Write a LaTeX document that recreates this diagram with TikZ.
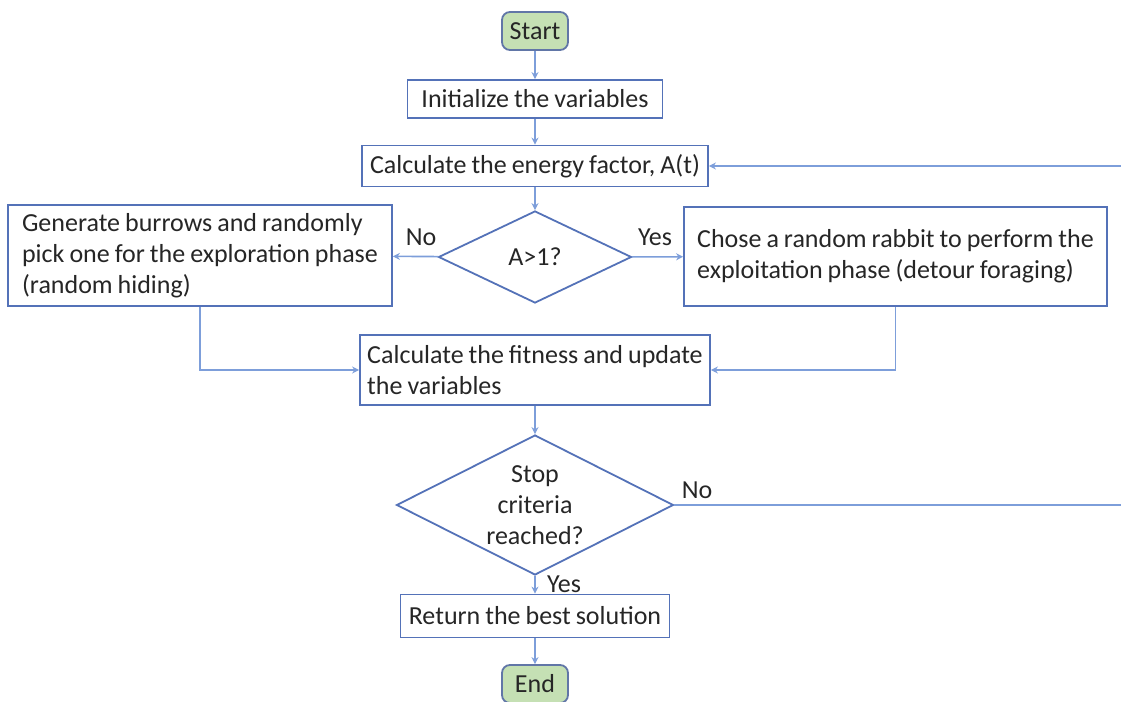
\documentclass[tikz,border=0pt]{standalone}
\usepackage{fontspec}
\setmainfont{Carlito}[WordSpace=0.85]
\usetikzlibrary{arrows.meta,shapes.geometric}

\definecolor{boxblue}{RGB}{84,114,184}
\definecolor{lineblue}{RGB}{125,158,218}
\definecolor{termgreen}{RGB}{197,224,180}

\begin{document}
\begin{tikzpicture}[
    font=\fontsize{13}{15.5}\selectfont,
    text=black!85,
    x=0.5pt, y=-0.5pt,
    box/.style={
        rectangle, draw=boxblue, line width=0.9pt, fill=white,
        align=center, inner sep=3pt
    },
    textbox/.style={
        box, align=left
    },
    terminal/.style={
        box, rounded corners=4pt, fill=termgreen, draw=boxblue!70!gray,
        minimum width=33pt, minimum height=19pt
    },
    decision/.style={
        diamond, aspect=2, draw=boxblue, line width=0.9pt, fill=white,
        align=center, inner sep=0pt
    },
    conn/.style={-{Stealth[length=3.5pt,width=3.5pt]}, draw=lineblue, line width=0.8pt},
]

    \useasboundingbox (0,0) rectangle (1121,702);

    % Column x-coordinates.
    \def\xMain{535}
    \def\xLeft{200}
    \def\xRight{895.5}

    % ---------- main column ----------
    \node[terminal] (start) at (\xMain, 31) {Start};
    \node[box, minimum width=127.5pt, minimum height=19pt] (init) at (\xMain, 99) {Initialize the variables};
    \node[box, minimum width=173pt, minimum height=20.5pt] (energy) at (\xMain, 166) {Calculate the energy factor, A(t)};
    \node[decision, minimum width=96.5pt, minimum height=46pt] (check) at (\xMain, 257) {A>1?};

    % ---------- branches ----------
    \node[textbox, minimum width=192pt, minimum height=50.5pt] (explore) at (\xLeft, 255.5)
        {Generate burrows and randomly\\pick one for the exploration phase\\(random hiding)};
    \node[textbox, minimum width=211.5pt, minimum height=49.5pt] (exploit) at (\xRight, 256.5)
        {Chose a random rabbit to perform the\\exploitation phase (detour foraging)};

    \node[textbox, minimum width=175pt, minimum height=35pt] (fitness) at (\xMain, 370)
        {Calculate the fitness and update\\the variables};
    \node[decision, minimum width=138.5pt, minimum height=70pt] (stop) at (\xMain, 505)
        {Stop\\criteria\\reached?};
    \node[box, minimum width=134.5pt, minimum height=21.5pt] (result) at (\xMain, 616) {Return the best solution};
    \node[terminal] (finish) at (\xMain, 684) {End};

    % ---------- connectors ----------
    \draw[conn] (start) -- (init);
    \draw[conn] (init) -- (energy);
    \draw[conn] (energy) -- (check);
    \draw[conn] (check) -- (explore);
    \draw[conn] (check) -- (exploit);
    \draw[conn] (explore.south) |- (fitness.west);
    \draw[conn] (exploit.south) |- (fitness.east);
    \draw[conn] (fitness) -- (stop);
    \draw[conn] (stop) -- (result);
    \draw[conn] (result) -- (finish);

    % loop back past the right edge
    \coordinate (loop) at (1123, 505);
    \draw[conn] (stop.east) -- (loop) |- (energy.east);

    % ---------- labels ----------
    \node (lblNoA) at (421, 237) {No};
    \node (lblYesA) at (655, 237) {Yes};
    \node (lblNoB) at (697, 490) {No};
    \node (lblYesB) at (564, 584) {Yes};

\end{tikzpicture}
\end{document}
